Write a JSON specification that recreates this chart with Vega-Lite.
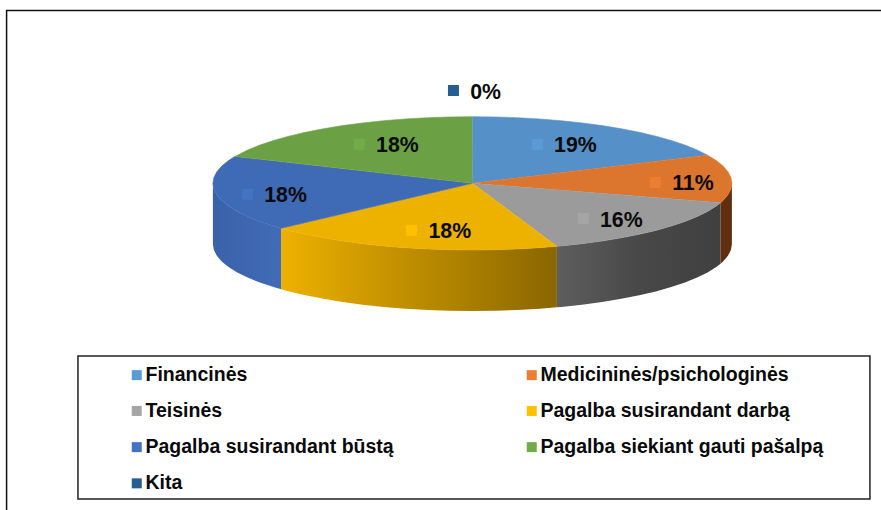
{"$schema":"https://vega.github.io/schema/vega-lite/v6.json","width":881,"height":510,"padding":0,"autosize":{"type":"none"},"background":"white","view":{"stroke":null},
"config":{"view":{"stroke":null}},
"datasets":{
"labels":[
{"slice":"Financinės","share":19,"label":"19%","x":0.25,"y":0.583},
{"slice":"Medicininės/psichologinės","share":11,"label":"11%","x":0.705,"y":0.012},
{"slice":"Teisinės","share":16,"label":"16%","x":0.427,"y":-0.529},
{"slice":"Pagalba susirandant darbą","share":18,"label":"18%","x":-0.234,"y":-0.706},
{"slice":"Pagalba susirandant būstą","share":18,"label":"18%","x":-0.867,"y":-0.165},
{"slice":"Pagalba siekiant gauti pašalpą","share":18,"label":"18%","x":-0.436,"y":0.586},
{"slice":"Kita","share":0,"label":"0%","x":-0.073,"y":1.393}
],
"tops":[
{"s":"Financinės","i":0,"x":0,"y":0},{"s":"Financinės","i":1,"x":0,"y":1},{"s":"Financinės","i":2,"x":0.0872,"y":0.9962},{"s":"Financinės","i":3,"x":0.1736,"y":0.9848},{"s":"Financinės","i":4,"x":0.2588,"y":0.9659},{"s":"Financinės","i":5,"x":0.342,"y":0.9397},{"s":"Financinės","i":6,"x":0.4226,"y":0.9063},{"s":"Financinės","i":7,"x":0.5,"y":0.866},{"s":"Financinės","i":8,"x":0.5736,"y":0.8192},{"s":"Financinės","i":9,"x":0.6428,"y":0.766},{"s":"Financinės","i":10,"x":0.7071,"y":0.7071},{"s":"Financinės","i":11,"x":0.766,"y":0.6428},{"s":"Financinės","i":12,"x":0.8192,"y":0.5736},{"s":"Financinės","i":13,"x":0.866,"y":0.5},{"s":"Financinės","i":14,"x":0.9063,"y":0.4226},
{"s":"Medicininės/psichologinės","i":0,"x":0,"y":0},{"s":"Medicininės/psichologinės","i":1,"x":0.9063,"y":0.4226},{"s":"Medicininės/psichologinės","i":2,"x":0.9397,"y":0.342},{"s":"Medicininės/psichologinės","i":3,"x":0.9659,"y":0.2588},{"s":"Medicininės/psichologinės","i":4,"x":0.9848,"y":0.1736},{"s":"Medicininės/psichologinės","i":5,"x":0.9962,"y":0.0872},{"s":"Medicininės/psichologinės","i":6,"x":1,"y":0},{"s":"Medicininės/psichologinės","i":7,"x":0.9962,"y":-0.0872},{"s":"Medicininės/psichologinės","i":8,"x":0.9848,"y":-0.1736},{"s":"Medicininės/psichologinės","i":9,"x":0.9659,"y":-0.2588},{"s":"Medicininės/psichologinės","i":10,"x":0.9563,"y":-0.2924},
{"s":"Teisinės","i":0,"x":0,"y":0},{"s":"Teisinės","i":1,"x":0.9563,"y":-0.2924},{"s":"Teisinės","i":2,"x":0.9397,"y":-0.342},{"s":"Teisinės","i":3,"x":0.9063,"y":-0.4226},{"s":"Teisinės","i":4,"x":0.866,"y":-0.5},{"s":"Teisinės","i":5,"x":0.8192,"y":-0.5736},{"s":"Teisinės","i":6,"x":0.766,"y":-0.6428},{"s":"Teisinės","i":7,"x":0.7071,"y":-0.7071},{"s":"Teisinės","i":8,"x":0.6428,"y":-0.766},{"s":"Teisinės","i":9,"x":0.5736,"y":-0.8192},{"s":"Teisinės","i":10,"x":0.5,"y":-0.866},{"s":"Teisinės","i":11,"x":0.4226,"y":-0.9063},{"s":"Teisinės","i":12,"x":0.342,"y":-0.9397},{"s":"Teisinės","i":13,"x":0.3256,"y":-0.9455},
{"s":"Pagalba susirandant darbą","i":0,"x":0,"y":0},{"s":"Pagalba susirandant darbą","i":1,"x":0.3256,"y":-0.9455},{"s":"Pagalba susirandant darbą","i":2,"x":0.2588,"y":-0.9659},{"s":"Pagalba susirandant darbą","i":3,"x":0.1736,"y":-0.9848},{"s":"Pagalba susirandant darbą","i":4,"x":0.0872,"y":-0.9962},{"s":"Pagalba susirandant darbą","i":5,"x":0,"y":-1},{"s":"Pagalba susirandant darbą","i":6,"x":-0.0872,"y":-0.9962},{"s":"Pagalba susirandant darbą","i":7,"x":-0.1736,"y":-0.9848},{"s":"Pagalba susirandant darbą","i":8,"x":-0.2588,"y":-0.9659},{"s":"Pagalba susirandant darbą","i":9,"x":-0.342,"y":-0.9397},{"s":"Pagalba susirandant darbą","i":10,"x":-0.4226,"y":-0.9063},{"s":"Pagalba susirandant darbą","i":11,"x":-0.5,"y":-0.866},{"s":"Pagalba susirandant darbą","i":12,"x":-0.5736,"y":-0.8192},{"s":"Pagalba susirandant darbą","i":13,"x":-0.6428,"y":-0.766},{"s":"Pagalba susirandant darbą","i":14,"x":-0.7071,"y":-0.7071},{"s":"Pagalba susirandant darbą","i":15,"x":-0.7373,"y":-0.6756},
{"s":"Pagalba susirandant būstą","i":0,"x":0,"y":0},{"s":"Pagalba susirandant būstą","i":1,"x":-0.7373,"y":-0.6756},{"s":"Pagalba susirandant būstą","i":2,"x":-0.766,"y":-0.6428},{"s":"Pagalba susirandant būstą","i":3,"x":-0.8192,"y":-0.5736},{"s":"Pagalba susirandant būstą","i":4,"x":-0.866,"y":-0.5},{"s":"Pagalba susirandant būstą","i":5,"x":-0.9063,"y":-0.4226},{"s":"Pagalba susirandant būstą","i":6,"x":-0.9397,"y":-0.342},{"s":"Pagalba susirandant būstą","i":7,"x":-0.9659,"y":-0.2588},{"s":"Pagalba susirandant būstą","i":8,"x":-0.9848,"y":-0.1736},{"s":"Pagalba susirandant būstą","i":9,"x":-0.9962,"y":-0.0872},{"s":"Pagalba susirandant būstą","i":10,"x":-1,"y":0},{"s":"Pagalba susirandant būstą","i":11,"x":-0.9962,"y":0.0872},{"s":"Pagalba susirandant būstą","i":12,"x":-0.9848,"y":0.1736},{"s":"Pagalba susirandant būstą","i":13,"x":-0.9659,"y":0.2588},{"s":"Pagalba susirandant būstą","i":14,"x":-0.9397,"y":0.342},{"s":"Pagalba susirandant būstą","i":15,"x":-0.915,"y":0.4035},
{"s":"Pagalba siekiant gauti pašalpą","i":0,"x":0,"y":0},{"s":"Pagalba siekiant gauti pašalpą","i":1,"x":-0.915,"y":0.4035},{"s":"Pagalba siekiant gauti pašalpą","i":2,"x":-0.866,"y":0.5},{"s":"Pagalba siekiant gauti pašalpą","i":3,"x":-0.8192,"y":0.5736},{"s":"Pagalba siekiant gauti pašalpą","i":4,"x":-0.766,"y":0.6428},{"s":"Pagalba siekiant gauti pašalpą","i":5,"x":-0.7071,"y":0.7071},{"s":"Pagalba siekiant gauti pašalpą","i":6,"x":-0.6428,"y":0.766},{"s":"Pagalba siekiant gauti pašalpą","i":7,"x":-0.5736,"y":0.8192},{"s":"Pagalba siekiant gauti pašalpą","i":8,"x":-0.5,"y":0.866},{"s":"Pagalba siekiant gauti pašalpą","i":9,"x":-0.4226,"y":0.9063},{"s":"Pagalba siekiant gauti pašalpą","i":10,"x":-0.342,"y":0.9397},{"s":"Pagalba siekiant gauti pašalpą","i":11,"x":-0.2588,"y":0.9659},{"s":"Pagalba siekiant gauti pašalpą","i":12,"x":-0.1736,"y":0.9848},{"s":"Pagalba siekiant gauti pašalpą","i":13,"x":-0.0872,"y":0.9962},{"s":"Pagalba siekiant gauti pašalpą","i":14,"x":0,"y":1}
],
"frame":[{"i":0,"x":-1.795,"y":-4.905},{"i":1,"x":-1.795,"y":2.595},{"i":2,"x":1.5746,"y":2.595}],
"box":[{"x":-1.52,"x2":1.532,"y":-2.593,"y2":-4.74}]
},
"layer":[
{"data":{"name":"frame"},"mark":{"type":"line","stroke":"#111111","strokeWidth":1.5},"encoding":{"x":{"field":"x","type":"quantitative","axis":null,"scale":{"domain":[-1.8204,1.5746],"nice":false,"zero":false}},"y":{"field":"y","type":"quantitative","axis":null,"scale":{"domain":[-4.905,2.752],"nice":false,"zero":false}},"order":{"field":"i"}}},
{"data":{"name":"box"},"mark":{"type":"rect","filled":false,"stroke":"#222222","strokeWidth":1.5},"encoding":{"x":{"field":"x","type":"quantitative"},"x2":{"field":"x2"},"y":{"field":"y","type":"quantitative"},"y2":{"field":"y2"}}},
{"data":{"values":[{"x":-1,"y":0,"y2":-0.916},{"x":-0.9962,"y":-0.0872,"y2":-1.0032},{"x":-0.9848,"y":-0.1736,"y2":-1.0896},{"x":-0.9659,"y":-0.2588,"y2":-1.1748},{"x":-0.9397,"y":-0.342,"y2":-1.258},{"x":-0.9063,"y":-0.4226,"y2":-1.3386},{"x":-0.866,"y":-0.5,"y2":-1.416},{"x":-0.8192,"y":-0.5736,"y2":-1.4896},{"x":-0.766,"y":-0.6428,"y2":-1.5588},{"x":-0.7373,"y":-0.6756,"y2":-1.5916}]},"mark":{"type":"area","fill":{"gradient":"linear","x1":0,"x2":1,"y1":0,"y2":0,"stops":[{"offset":0,"color":"#3a62a8"},{"offset":1,"color":"#416bb8"}]}},"encoding":{"x":{"field":"x","type":"quantitative"},"y":{"field":"y","type":"quantitative"},"y2":{"field":"y2"}}},
{"data":{"values":[{"x":-0.7373,"y":-0.6756,"y2":-1.5916},{"x":-0.7071,"y":-0.7071,"y2":-1.6231},{"x":-0.6428,"y":-0.766,"y2":-1.682},{"x":-0.5736,"y":-0.8192,"y2":-1.7352},{"x":-0.5,"y":-0.866,"y2":-1.782},{"x":-0.4226,"y":-0.9063,"y2":-1.8223},{"x":-0.342,"y":-0.9397,"y2":-1.8557},{"x":-0.2588,"y":-0.9659,"y2":-1.8819},{"x":-0.1736,"y":-0.9848,"y2":-1.9008},{"x":-0.0872,"y":-0.9962,"y2":-1.9122},{"x":0,"y":-1,"y2":-1.916},{"x":0.0872,"y":-0.9962,"y2":-1.9122},{"x":0.1736,"y":-0.9848,"y2":-1.9008},{"x":0.2588,"y":-0.9659,"y2":-1.8819},{"x":0.3256,"y":-0.9455,"y2":-1.8615}]},"mark":{"type":"area","fill":{"gradient":"linear","x1":0,"x2":1,"y1":0,"y2":0,"stops":[{"offset":0,"color":"#edb100"},{"offset":1,"color":"#8a6600"}]}},"encoding":{"x":{"field":"x","type":"quantitative"},"y":{"field":"y","type":"quantitative"},"y2":{"field":"y2"}}},
{"data":{"values":[{"x":0.3256,"y":-0.9455,"y2":-1.8615},{"x":0.342,"y":-0.9397,"y2":-1.8557},{"x":0.4226,"y":-0.9063,"y2":-1.8223},{"x":0.5,"y":-0.866,"y2":-1.782},{"x":0.5736,"y":-0.8192,"y2":-1.7352},{"x":0.6428,"y":-0.766,"y2":-1.682},{"x":0.7071,"y":-0.7071,"y2":-1.6231},{"x":0.766,"y":-0.6428,"y2":-1.5588},{"x":0.8192,"y":-0.5736,"y2":-1.4896},{"x":0.866,"y":-0.5,"y2":-1.416},{"x":0.9063,"y":-0.4226,"y2":-1.3386},{"x":0.9397,"y":-0.342,"y2":-1.258},{"x":0.9563,"y":-0.2924,"y2":-1.2084}]},"mark":{"type":"area","fill":{"gradient":"linear","x1":0,"x2":1,"y1":0,"y2":0,"stops":[{"offset":0,"color":"#5e5e5e"},{"offset":0.5,"color":"#484848"},{"offset":1,"color":"#404040"}]}},"encoding":{"x":{"field":"x","type":"quantitative"},"y":{"field":"y","type":"quantitative"},"y2":{"field":"y2"}}},
{"data":{"values":[{"x":0.9563,"y":-0.2924,"y2":-1.2084},{"x":0.9659,"y":-0.2588,"y2":-1.1748},{"x":0.9848,"y":-0.1736,"y2":-1.0896},{"x":0.9962,"y":-0.0872,"y2":-1.0032},{"x":1,"y":0,"y2":-0.916}]},"mark":{"type":"area","fill":"#5f2f10"},"encoding":{"x":{"field":"x","type":"quantitative"},"y":{"field":"y","type":"quantitative"},"y2":{"field":"y2"}}},
{"data":{"name":"tops"},"mark":{"type":"line","strokeWidth":0.6},"encoding":{"x":{"field":"x","type":"quantitative"},"y":{"field":"y","type":"quantitative"},"order":{"field":"i"},"fill":{"field":"s","type":"nominal","legend":null,"scale":{"domain":["Financinės","Medicininės/psichologinės","Teisinės","Pagalba susirandant darbą","Pagalba susirandant būstą","Pagalba siekiant gauti pašalpą"],"range":["#5590c8","#dc752e","#9b9b9b","#edb100","#3f6ab5","#6ba144"]}},"stroke":{"field":"s","type":"nominal","legend":null,"scale":{"domain":["Financinės","Medicininės/psichologinės","Teisinės","Pagalba susirandant darbą","Pagalba susirandant būstą","Pagalba siekiant gauti pašalpą"],"range":["#5590c8","#dc752e","#9b9b9b","#edb100","#3f6ab5","#6ba144"]}}}},
{"data":{"name":"labels"},"mark":{"type":"point","shape":"square","filled":true,"size":121,"opacity":1},"encoding":{"x":{"field":"x","type":"quantitative"},"y":{"field":"y","type":"quantitative"},"color":{"field":"slice","type":"nominal","scale":{"domain":["Financinės","Medicininės/psichologinės","Teisinės","Pagalba susirandant darbą","Pagalba susirandant būstą","Pagalba siekiant gauti pašalpą","Kita"],"range":["#5b9bd5","#ed7d31","#a5a5a5","#ffc000","#4472c4","#70ad47","#255e91"]},"legend":{"orient":"none","direction":"horizontal","legendX":127,"legendY":365,"columns":2,"title":null,"symbolType":"square","symbolSize":100,"symbolOpacity":1,"labelFont":"Liberation Sans","labelFontSize":19.5,"labelFontWeight":"bold","labelColor":"#0a0a0a","labelLimit":500,"labelOffset":-1,"rowPadding":15.2,"columnPadding":128,"padding":0}}}},
{"data":{"name":"labels"},"mark":{"type":"text","align":"left","baseline":"middle","dx":16.8,"dy":2,"font":"Liberation Sans","fontWeight":"bold","fontSize":21.3,"color":"#0a0a0a"},"encoding":{"x":{"field":"x","type":"quantitative"},"y":{"field":"y","type":"quantitative"},"text":{"field":"label"}}}
]}
